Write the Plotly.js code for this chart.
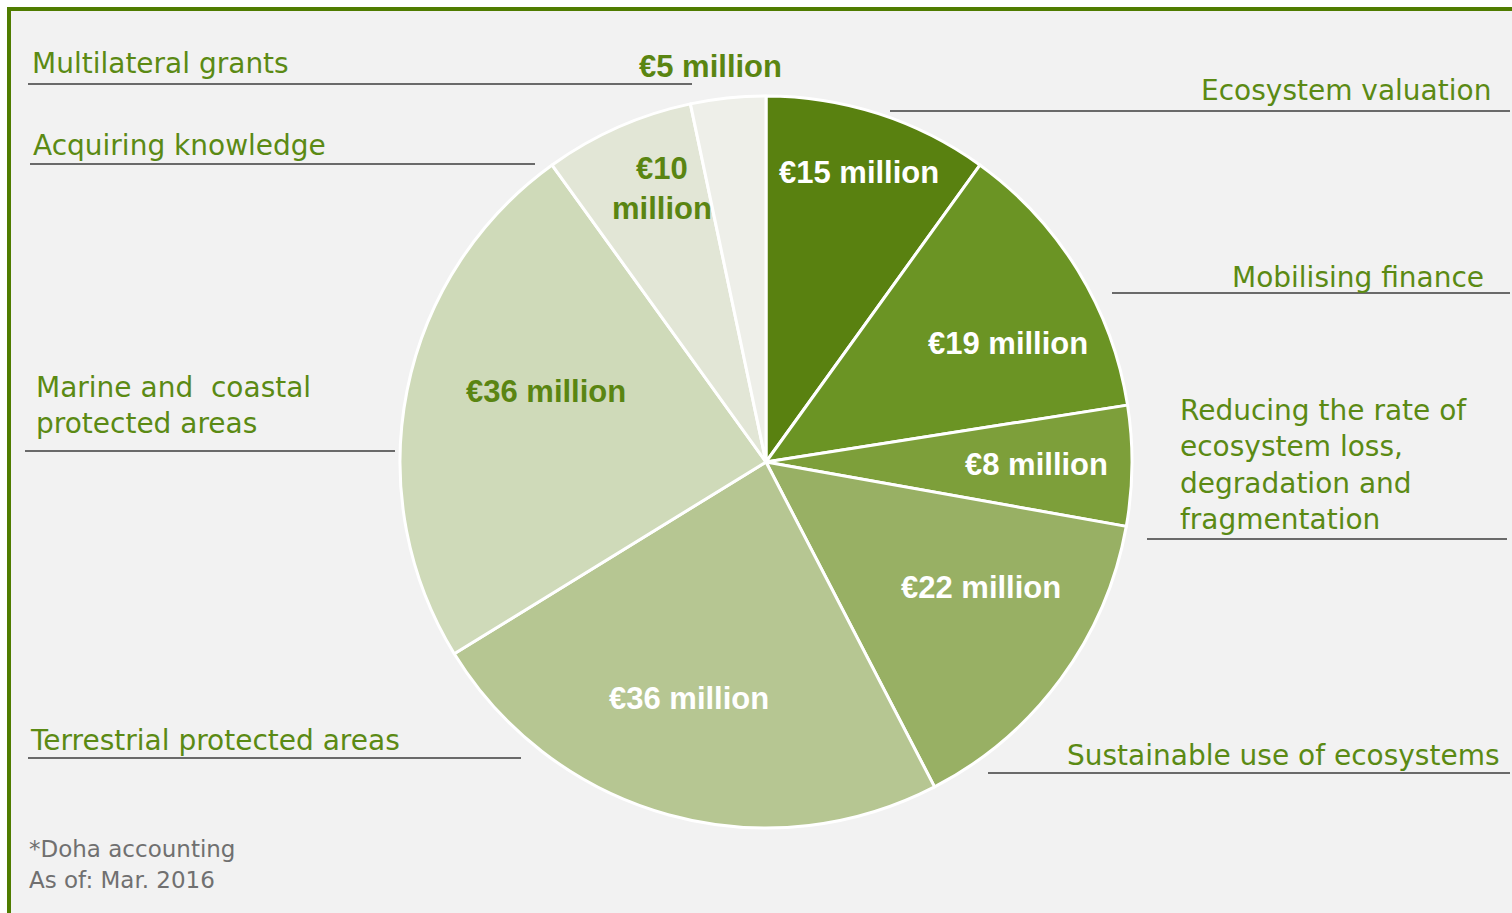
<!DOCTYPE html>
<html>
<head>
<meta charset="utf-8">
<script src="https://cdn.plot.ly/plotly-3.0.1.min.js"></script>
<style>html,body{margin:0;padding:0;background:#fff;}#chart{width:1512px;height:913px;}</style>
</head>
<body>
<div id="chart"></div>
<script>
// ---- data ----
const categories = [
  "Ecosystem valuation",
  "Mobilising finance",
  "Reducing the rate of ecosystem loss, degradation and fragmentation",
  "Sustainable use of ecosystems",
  "Terrestrial protected areas",
  "Marine and coastal protected areas",
  "Acquiring knowledge",
  "Multilateral grants"
];
const valuesMillionEUR = [15, 19, 8, 22, 36, 36, 10, 5];
const valueLabels = ["€15 million", "€19 million", "€8 million", "€22 million",
                     "€36 million", "€36 million", "€10<br>million", "€5 million"];
const categoryLabels = [
  "Ecosystem valuation",
  "Mobilising finance",
  "Reducing the rate of<br>ecosystem loss,<br>degradation and<br>fragmentation",
  "Sustainable use of ecosystems",
  "Terrestrial protected areas",
  "Marine and  coastal<br>protected areas",
  "Acquiring knowledge",
  "Multilateral grants"
];
const footnotes = ["*Doha accounting", "As of: Mar. 2016"];

// ---- style ----
const W = 1512, H = 913;
const sliceColors = ["#598110", "#6b9424", "#7d9f3a", "#98b064", "#b6c692", "#cfdab9", "#e2e6d6", "#eeefe9"];
const valueTextColors = ["#ffffff", "#ffffff", "#ffffff", "#ffffff", "#ffffff", "#5a8512", "#5a8512", "#5a8512"];
const labelRadius = [0.83, 0.735, 0.74, 0.68, 0.68, 0.63, 0.80, 1.09];
const labelAngleShift = [0, 5.5, 0, -6, 2.5, 6.5, 3, -2];
const textGreen = "#5b8a14";
const pieCx = 766, pieCy = 462, pieR = 366;
const regularFont = "DejaVu Sans, Liberation Sans, Arial, sans-serif";
const boldFont = "Liberation Sans, Arial, sans-serif";

const px = x => x / W;
const py = y => 1 - y / H;

// category label placement (pixels) and underline
const catLayout = [
  {x: 1493, y: 91,  anchor: "right", line: [890, 1510, 111]},
  {x: 1486, y: 277, anchor: "right", line: [1112, 1510, 293]},
  {x: 1178, y: 465, anchor: "left",  line: [1147, 1507, 539]},
  {x: 1502, y: 755, anchor: "right", line: [988, 1510, 773]},
  {x: 28,   y: 740, anchor: "left",  line: [28, 521, 758]},
  {x: 34,   y: 406, anchor: "left",  line: [25, 395, 451]},
  {x: 31,   y: 145, anchor: "left",  line: [30, 535, 164]},
  {x: 30,   y: 63,  anchor: "left",  line: [28, 692, 84]}
];

const total = valuesMillionEUR.reduce((a, b) => a + b, 0);
const annotations = [];
const shapes = [];

// frame
shapes.push({type: "rect", xref: "paper", yref: "paper", layer: "below",
  x0: px(9), x1: px(1560), y0: py(960), y1: py(9),
  fillcolor: "#f2f2f2", line: {color: "#4f7c00", width: 4}});

// value labels, positioned from the slice mid-angles
let cum = 0;
valuesMillionEUR.forEach((v, i) => {
  const mid = (cum + v / 2) / total * 360 + labelAngleShift[i];
  cum += v;
  const a = mid * Math.PI / 180;
  const r = pieR * labelRadius[i];
  annotations.push({
    xref: "paper", yref: "paper", showarrow: false,
    x: px(pieCx + r * Math.sin(a)), y: py(pieCy - r * Math.cos(a)),
    xanchor: "center", yanchor: "middle",
    text: valueLabels[i],
    font: {family: boldFont, size: 31, color: valueTextColors[i], weight: "bold"},
    align: "center"
  });
});

// category labels with underlines
categoryLabels.forEach((t, i) => {
  const c = catLayout[i];
  annotations.push({
    xref: "paper", yref: "paper", showarrow: false,
    x: px(c.x), y: py(c.y), xanchor: c.anchor, yanchor: "middle",
    text: t, align: "left",
    font: {family: regularFont, size: 28, color: textGreen}
  });
  shapes.push({type: "line", xref: "paper", yref: "paper",
    x0: px(c.line[0]), x1: px(c.line[1]), y0: py(c.line[2]), y1: py(c.line[2]),
    line: {color: "#6a6a6a", width: 2}});
});

// footnotes
footnotes.forEach((t, i) => {
  annotations.push({
    xref: "paper", yref: "paper", showarrow: false,
    x: px(27), y: py(849 + i * 31), xanchor: "left", yanchor: "middle",
    text: t, font: {family: regularFont, size: 23, color: "#707070"}
  });
});

const trace = {
  type: "pie",
  labels: categories,
  values: valuesMillionEUR,
  sort: false,
  direction: "clockwise",
  rotation: 0,
  textinfo: "none",
  hoverinfo: "label+value",
  marker: {colors: sliceColors, line: {color: "#ffffff", width: 3}},
  domain: {x: [px(pieCx - pieR), px(pieCx + pieR)], y: [py(pieCy + pieR), py(pieCy - pieR)]},
  showlegend: false
};

const layout = {
  width: W, height: H,
  margin: {l: 0, r: 0, t: 0, b: 0},
  paper_bgcolor: "#ffffff",
  showlegend: false,
  shapes: shapes,
  annotations: annotations
};

Plotly.newPlot("chart", [trace], layout, {displayModeBar: false, staticPlot: true});
</script>
</body>
</html>
